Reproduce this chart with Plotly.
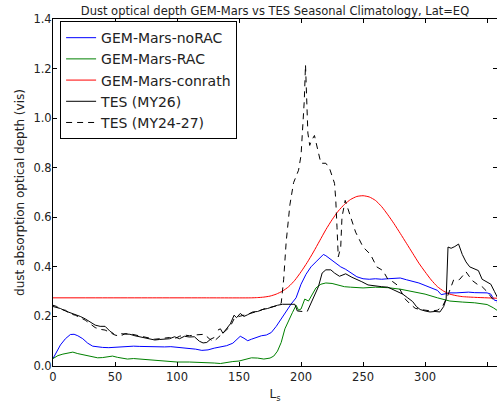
import plotly.graph_objects as go

# ---------------- data ----------------
ls_norac = [0, 3, 6, 10, 14, 17, 20, 24, 28, 32, 36, 40, 45, 50, 55, 60, 65, 70, 75, 80, 85, 90, 95, 100,
            105, 110, 115, 120, 125, 130, 135, 140, 145, 148, 151, 154, 157, 160, 164, 168, 172, 176, 180,
            184, 188, 192, 196, 200, 204, 208, 212, 216, 218, 220, 224, 228, 232, 236, 240, 245, 250, 255,
            260, 265, 270, 275, 280, 285, 290, 295, 300, 305, 310, 313, 316, 320, 325, 330, 335, 340, 345,
            350, 353, 356, 360]
tau_norac = [0.03, 0.06, 0.085, 0.11, 0.127, 0.128, 0.122, 0.11, 0.092, 0.08, 0.076, 0.075, 0.074, 0.076,
             0.075, 0.078, 0.08, 0.079, 0.078, 0.076, 0.075, 0.077, 0.078, 0.076, 0.073, 0.072, 0.068, 0.063,
             0.065, 0.072, 0.078, 0.082, 0.092, 0.105, 0.12, 0.112, 0.102, 0.108, 0.116, 0.122, 0.125, 0.135,
             0.16, 0.19, 0.225, 0.25, 0.275, 0.33, 0.37, 0.4, 0.42, 0.44, 0.45, 0.445, 0.43, 0.415, 0.4, 0.39,
             0.375, 0.36, 0.352, 0.35, 0.352, 0.35, 0.352, 0.353, 0.355, 0.348, 0.342, 0.335, 0.325, 0.315,
             0.305, 0.288, 0.29, 0.295, 0.295, 0.297, 0.298, 0.296, 0.294, 0.295, 0.29, 0.265, 0.262]

ls_rac = [0, 4, 8, 12, 16, 20, 24, 28, 32, 36, 40, 44, 48, 52, 56, 60, 65, 70, 75, 80, 85, 90, 95, 100,
          110, 120, 130, 135, 140, 145, 150, 155, 160, 165, 170, 175, 178, 181, 184, 187, 190, 193, 196, 198,
          200, 203, 206, 209, 212, 216, 220, 225, 230, 235, 240, 250, 260, 270, 280, 290, 300, 310, 320, 330,
          340, 350, 355, 360]
tau_rac = [0.03, 0.042, 0.048, 0.052, 0.056, 0.05, 0.045, 0.04, 0.035, 0.033, 0.034, 0.037, 0.04, 0.035,
           0.03, 0.028, 0.03, 0.028, 0.027, 0.026, 0.022, 0.019, 0.018, 0.016, 0.016, 0.015, 0.012, 0.01,
           0.015, 0.018, 0.02, 0.025, 0.033, 0.032, 0.028, 0.032, 0.04, 0.06, 0.095, 0.15, 0.185, 0.215, 0.245,
           0.225, 0.23, 0.27, 0.262, 0.29, 0.315, 0.33, 0.335, 0.333, 0.325, 0.32, 0.318, 0.315, 0.318, 0.316,
           0.31, 0.3, 0.29, 0.275, 0.262, 0.258, 0.255, 0.248, 0.235, 0.218]

ls_conrath = [0, 40, 80, 120, 160, 165, 170, 175, 180, 185, 190, 195, 200, 205, 210, 215, 220, 225, 230,
              235, 240, 245, 250, 255, 260, 265, 270, 275, 280, 285, 290, 295, 300, 305, 310, 315, 320, 325,
              330, 340, 350, 360]
tau_conrath = [0.275, 0.275, 0.275, 0.275, 0.275, 0.276, 0.278, 0.282, 0.29, 0.302, 0.32, 0.346, 0.38,
               0.418, 0.46, 0.505, 0.55, 0.59, 0.625, 0.652, 0.672, 0.684, 0.687, 0.682, 0.668, 0.643, 0.61,
               0.574, 0.535, 0.495, 0.455, 0.415, 0.38, 0.347, 0.32, 0.302, 0.29, 0.284, 0.28, 0.277, 0.275,
               0.273]

ls_my26 = [0, 3, 6, 10, 14, 18, 22, 26, 30, 34, 38, 42, 46, 49, 52, 55, 58, 62, 66, 70, 74, 78, 82, 86, 90,
           94, 98, 102, 106, 110, 114, 118, 121, 124, 127, 130, 132, 133, 135, 137, 140, 143, 146, 148, 151,
           154, 157, 161, 165, 169, 173, 177, 181, 185, 190, 195, 197, 201, 203, 205, 208, 211, 214, 217, 220,
           224, 227, 231, 236, 241, 245, 249, 254, 260, 265, 270, 276, 282, 286, 290, 293, 296, 300, 304, 308,
           312, 315, 317, 318.5, 321, 324, 327, 330, 333, 336, 340, 343, 346, 350, 353, 356, 360]
tau_my26 = [0.24, 0.235, 0.232, 0.222, 0.215, 0.205, 0.2, 0.19, 0.178, 0.165, 0.16, 0.16, 0.14, 0.13, None,
            0.13, 0.128, 0.128, 0.122, 0.118, 0.112, 0.108, 0.105, 0.107, 0.108, 0.11, 0.118, 0.11, 0.12,
            0.117, 0.118, 0.1, 0.093, 0.095, 0.108, 0.115, None, 0.145, 0.15, 0.132, 0.152, 0.17, 0.205, 0.195,
            0.212, 0.2, 0.207, 0.218, 0.22, 0.228, 0.232, 0.24, 0.245, 0.249, 0.249, 0.249, 0.222, 0.22, None,
            0.22, 0.255, 0.29, 0.32, 0.375, 0.388, 0.388, 0.375, 0.362, 0.372, 0.358, 0.35, 0.34, 0.327, 0.322,
            0.32, 0.318, 0.305, 0.29, 0.275, 0.26, 0.24, 0.228, 0.222, 0.218, 0.22, 0.218, 0.24, 0.27, 0.48,
            0.475, 0.482, 0.492, 0.45, 0.42, 0.4, 0.39, 0.385, 0.35, 0.34, 0.33, 0.3, 0.26]

ls_clim = [0, 3, 6, 10, 14, 18, 22, 26, 30, 34, 38, 42, 46, 50, 54, 58, 62, 66, 70, 74, 78, 82, 86, 90, 94,
           98, 102, 106, 110, 114, 118, 122, 126, 129, 131, 134, 137, 140, 143, 146, 150, 154, 158, 162, 166,
           170, 174, 178, 182, 184, 186, 188, 191, 194, 198, 200, 201, 202.6, 203.6, 204.7, 205.5, 207, 208,
           210.8, 213.4, 216, 220, 223, 227, 228, 229, 229.5, 230, 232, 233, 235.6, 239, 244, 250, 256, 261,
           266, 270, 274, 278, 284, 288, 292, 296, 300, 305, 310, 314, 318, 321, 323, 326, 328, 333, 338, 342,
           346, 350, 353, 356, 360]
tau_clim = [0.245, 0.24, 0.228, 0.225, 0.21, 0.205, 0.195, 0.185, 0.17, 0.155, 0.148, 0.145, 0.135, 0.125,
            0.12, 0.13, 0.13, 0.125, 0.12, 0.115, 0.11, 0.108, 0.11, 0.112, 0.115, 0.11, 0.12, 0.125, 0.122,
            0.125, 0.125, 0.128, 0.11, 0.1, 0.105, 0.118, 0.13, 0.145, 0.16, 0.19, 0.2, 0.205, 0.21, 0.215,
            0.222, 0.23, 0.235, 0.24, 0.245, 0.253, 0.35, 0.5, 0.65, 0.74, 0.79, 0.85, 0.93, 1.07, 1.215, 1.07,
            0.94, 0.89, 0.905, 0.93, 0.87, 0.818, 0.818, 0.797, 0.737, 0.67, 0.56, 0.45, 0.44, 0.48, 0.6,
            0.668, 0.616, 0.54, 0.48, 0.45, 0.40, 0.385, 0.35, 0.34, 0.325, 0.27, 0.25, 0.233, 0.228, 0.225,
            0.222, 0.225, 0.24, 0.28, 0.32, 0.347, 0.345, 0.35, 0.38, 0.345, 0.33, 0.32, 0.3, 0.28, 0.26, 0.255]

x_ticks = [0, 50, 100, 150, 200, 250, 300, 350]
y_ticks = [0.0, 0.2, 0.4, 0.6, 0.8, 1.0, 1.2, 1.4]

title_text = "Dust optical depth GEM-Mars vs TES Seasonal Climatology, Lat=EQ"
ylabel = "dust absorption optical depth (vis)"
xlabel = "L<sub>s</sub>"

# ---------------- figure ----------------
FONT = "DejaVu Sans"
fig = go.Figure()
series = [
    ("GEM-Mars-noRAC", ls_norac, tau_norac, "#0000ff", "solid"),
    ("GEM-Mars-RAC", ls_rac, tau_rac, "#008000", "solid"),
    ("GEM-Mars-conrath", ls_conrath, tau_conrath, "#ff0000", "solid"),
    ("TES (MY26)", ls_my26, tau_my26, "#000000", "solid"),
    ("TES (MY24-27)", ls_clim, tau_clim, "#000000", "6px,5px"),
]
for name, xs, ys, col, dash in series:
    fig.add_trace(go.Scatter(
        x=xs, y=ys, name=name, mode="lines", connectgaps=False,
        line=dict(color=col, width=1, dash=dash,
                  shape="spline" if name == "GEM-Mars-conrath" else "linear", smoothing=0.6),
    ))

axis_common = dict(
    showgrid=False, zeroline=False, showline=True, linecolor="black", linewidth=1,
    mirror="ticks", ticks="inside", ticklen=4, tickcolor="black", tickwidth=1,
    tickfont=dict(family=FONT, size=11.5, color="#222222"),
)
fig.update_xaxes(range=[0, 358], tickvals=x_ticks, ticktext=[str(v) for v in x_ticks],
                 ticklabelstandoff=0,
                 title=dict(text=xlabel, font=dict(family=FONT, size=12, color="#222222"), standoff=7),
                 **axis_common)
fig.update_yaxes(range=[0, 1.4], tickvals=y_ticks, ticktext=[f"{v:.1f}" for v in y_ticks],
                 ticklabelstandoff=-2,
                 title=dict(text=ylabel, font=dict(family=FONT, size=12, color="#222222"), standoff=6),
                 **axis_common)

fig.update_layout(
    width=497, height=403,
    margin=dict(l=53, r=0, t=19, b=37, autoexpand=False),
    paper_bgcolor="white", plot_bgcolor="white",
    title=dict(text=title_text, x=0.5, xref="paper", y=1 - 11 / 403, yanchor="middle",
               font=dict(family=FONT, size=11.5, color="#222222")),
    legend=dict(x=0.016, y=0.994, xanchor="left", yanchor="top", bgcolor="white",
                bordercolor="black", borderwidth=1,
                font=dict(family=FONT, size=14, color="#222222"), tracegroupgap=0),
    showlegend=True,
)

fig.write_html("out.html", config={"displayModeBar": False},
               post_script="document.body.style.margin='0';document.body.style.padding='0';")
